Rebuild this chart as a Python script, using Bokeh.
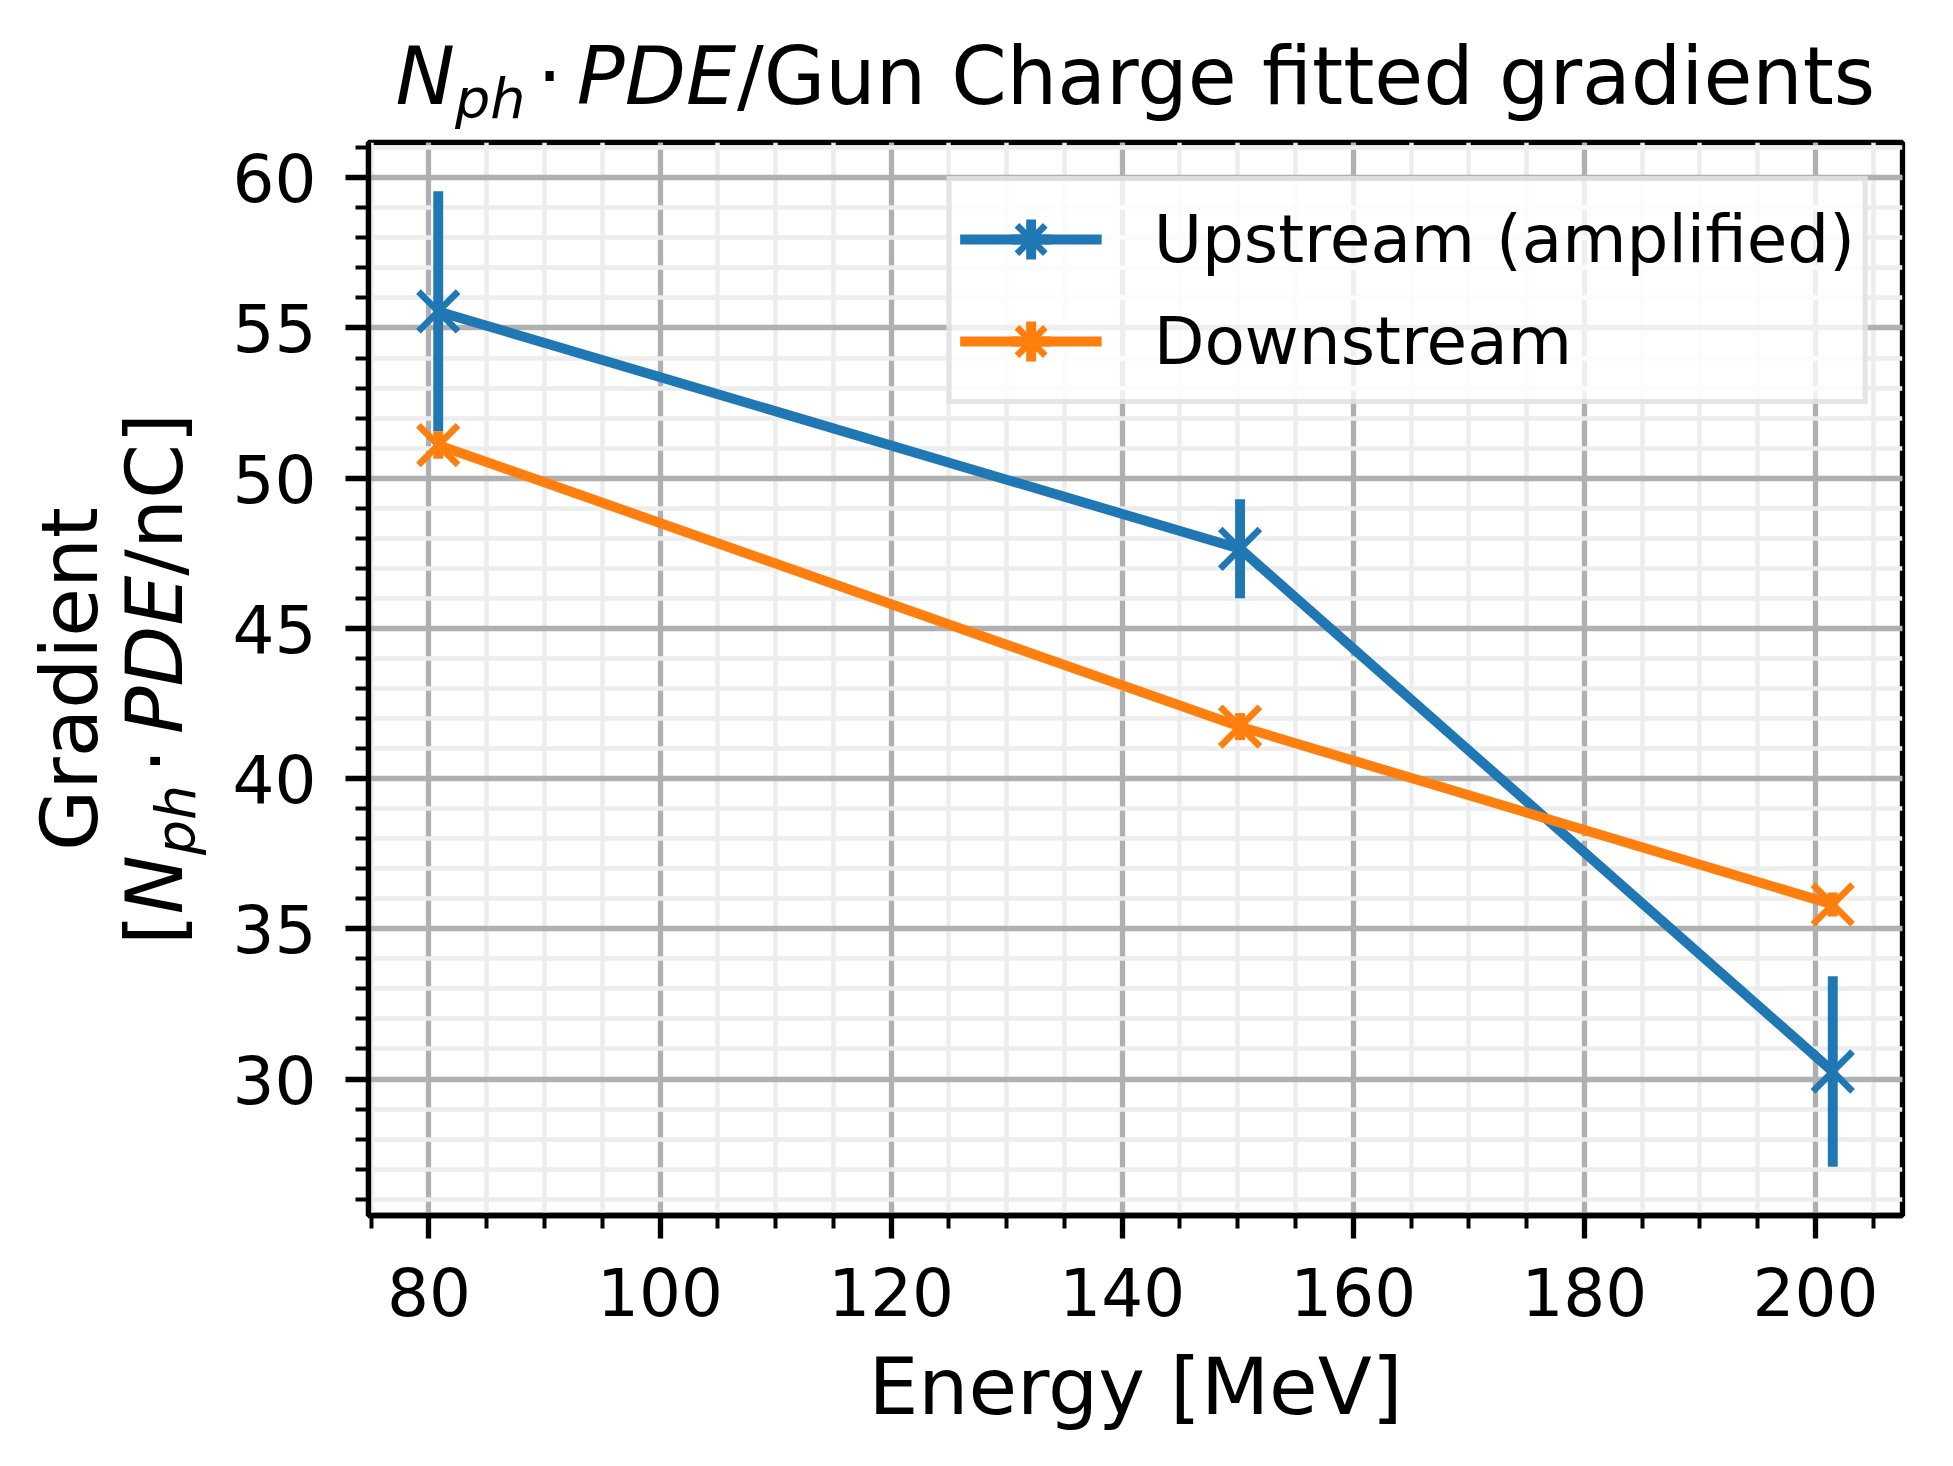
import math
from bokeh.plotting import figure
from bokeh.layouts import column, row
from bokeh.models import (Range1d, SingleIntervalTicker, ColumnDataSource,
                          Legend, LegendItem)
from bokeh.core.properties import value
from bokeh.embed import file_html
from bokeh.resources import INLINE

# ---- data ----
energy = [80.8, 150.2, 201.5]
upstream = [55.55, 47.65, 30.25]
upstream_err = [4.0, 1.65, 3.17]
downstream = [51.1, 41.73, 35.81]
downstream_err = [0.45, 0.45, 0.40]
series_labels = ["Upstream (amplified)", "Downstream"]
x_label = "Energy [MeV]"
# title "N_ph · PDE/Gun Charge fitted gradients" split into styled pieces
title_pieces = ["N", "ph", "\u00b7", "PDE", "/Gun Charge fitted gradients"]
ylabel_line1 = "Gradient"
ylabel_pieces = ["[", "N", "ph", "\u00b7", "PDE", "/nC]"]

FONT = "DejaVu Sans"
C_UP = "#1f77b4"
C_DOWN = "#ff7f0e"

# autoscale with 5% margins like matplotlib
lo_all = [u - e for u, e in zip(upstream, upstream_err)] + [d - e for d, e in zip(downstream, downstream_err)]
hi_all = [u + e for u, e in zip(upstream, upstream_err)] + [d + e for d, e in zip(downstream, downstream_err)]
ymin, ymax = min(lo_all), max(hi_all)
xmin, xmax = min(energy), max(energy)
xm = 0.05 * (xmax - xmin)
ym = 0.05 * (ymax - ymin)

# ---- page geometry (pixels) ----
PAGE_W = 1937
TITLE_H = 138
LEFT_W = 220
FRAME_L, FRAME_T = 368, 142          # frame position on the page
FRAME_W, FRAME_H = 1534, 1073
MAIN_BL = FRAME_L - LEFT_W
MAIN_BT = FRAME_T - TITLE_H
MAIN_BR = PAGE_W - FRAME_L - FRAME_W
MAIN_BB = 236
MAIN_H = MAIN_BT + FRAME_H + MAIN_BB

p = figure(frame_width=FRAME_W, frame_height=FRAME_H, output_backend="svg", toolbar_location=None,
           x_range=Range1d(xmin - xm, xmax + xm), y_range=Range1d(ymin - ym, ymax + ym),
           min_border_left=MAIN_BL, min_border_right=MAIN_BR, min_border_top=MAIN_BT,
           min_border_bottom=MAIN_BB)
p.background_fill_color = "white"
p.border_fill_color = "white"
p.outline_line_color = "black"
p.outline_line_width = 5.3

xt = SingleIntervalTicker(interval=20, num_minor_ticks=4)
yt = SingleIntervalTicker(interval=5, num_minor_ticks=5)
p.xaxis.ticker = xt
p.yaxis.ticker = yt
p.xgrid.ticker = xt
p.ygrid.ticker = yt

for g in (p.xgrid[0], p.ygrid[0]):
    g.grid_line_color = "#b0b0b0"
    g.grid_line_width = 5.3
    g.minor_grid_line_color = "#ededed"
    g.minor_grid_line_width = 4.5

for ax in (p.xaxis[0], p.yaxis[0]):
    ax.axis_line_color = "black"
    ax.axis_line_width = 5.3
    ax.major_tick_line_color = "black"
    ax.major_tick_line_width = 5.3
    ax.major_tick_out = 23
    ax.major_tick_in = 0
    ax.minor_tick_line_color = "black"
    ax.minor_tick_line_width = 4
    ax.minor_tick_out = 13
    ax.minor_tick_in = 0
    ax.major_label_text_font = FONT
    ax.major_label_text_font_size = "66px"
    ax.major_label_text_color = "black"
    ax.axis_label_text_font = FONT
    ax.axis_label_text_font_size = "79px"
    ax.axis_label_text_font_style = "normal"
    ax.axis_label_text_color = "black"

p.xaxis.major_label_standoff = 28
p.yaxis.major_label_standoff = 29
p.xaxis.axis_label = x_label
p.xaxis.axis_label_standoff = 22


def add_series(y, err, color):
    src = ColumnDataSource(dict(x=energy, y=y,
                                lo=[a - b for a, b in zip(y, err)],
                                hi=[a + b for a, b in zip(y, err)]))
    p.segment(x0="x", y0="lo", x1="x", y1="hi", source=src, line_color=color, line_width=9.9)
    ln = p.line("x", "y", source=src, line_color=color, line_width=9.9)
    # zero-size cross: invisible in the plot, gives the vertical error-bar stroke in the legend
    bar = p.scatter("x", "y", source=src, marker="cross", size=0,
                    line_color=color, line_width=9.9)
    mk = p.scatter("x", "y", source=src, marker="x", size=56, line_color=color, line_width=6.6)
    return [ln, bar, mk]


r_up = add_series(upstream, upstream_err, C_UP)
r_down = add_series(downstream, downstream_err, C_DOWN)

legend = Legend(items=[LegendItem(label=series_labels[0], renderers=r_up),
                       LegendItem(label=series_labels[1], renderers=r_down)],
                location="top_right")
legend.label_text_font = FONT
legend.label_text_font_size = "66px"
legend.label_text_color = "black"
legend.glyph_width = 142
legend.glyph_height = 100
legend.label_height = 100
legend.spacing = 2
legend.padding = 8
legend.margin = 34
legend.label_standoff = 52
legend.background_fill_color = "white"
legend.background_fill_alpha = 0.8
legend.border_line_color = "#cccccc"
legend.border_line_width = 5
p.add_layout(legend)


def text_fig(width, height, y_extent):
    f = figure(width=width, height=height, output_backend="svg", toolbar_location=None,
               x_range=Range1d(0, width), y_range=Range1d(0, y_extent),
               x_axis_location=None, y_axis_location=None, min_border=0, title=None)
    f.grid.visible = False
    f.outline_line_color = None
    f.background_fill_color = "white"
    f.border_fill_color = "white"
    return f


MID = 0.346   # distance (em) from the text box centre to the alphabetic baseline


def put(f, top, extent, text, cx, cy, size, italic=False, angle=0.0):
    # (cx, cy): centre of the text box in page pixels (y downward from page top);
    # the figure's frame covers page y from `top` to `top + extent`
    f.text(x=[cx], y=[top + extent - cy], text=[text],
           text_font=value(FONT), text_font_size=f"{size:.1f}px",
           text_font_style="italic" if italic else "normal",
           text_align="center", text_baseline="middle", angle=angle,
           text_color="black")


# ---- title figure ----
tf = text_fig(PAGE_W, TITLE_H, TITLE_H)
FT = 79.5
FS = FT * 0.7
tx0 = FRAME_L + 27
ty = 104                                   # baseline (page y)
cen_t = [0.374, 1.192, 1.94, 3.2825, 11.454]   # piece centres (em from start)
for i, s in enumerate(title_pieces):
    cx = tx0 + cen_t[i] * FT
    if i == 1:
        put(tf, 0, TITLE_H, s, cx, ty + 13 - MID * FS, FS, italic=True)
    else:
        put(tf, 0, TITLE_H, s, cx, ty - MID * FT, FT, italic=(i in (0, 3)))

# ---- left figure: rotated y label (its frame is aligned with the main frame) ----
lf = text_fig(LEFT_W, MAIN_H, FRAME_H)
FY = 79
FYS = FY * 0.7
A = math.pi / 2
cy = FRAME_T + FRAME_H / 2
put(lf, FRAME_T, FRAME_H, ylabel_line1, 97 - MID * FY, cy, FY, angle=A)
xb = 182                                   # baseline (page x) of the second line
start = cy + 6.734 * FY / 2
cen_y = [0.195, 0.764, 1.582, 2.33, 3.6725, 5.7045]
for i, s in enumerate(ylabel_pieces):
    py = start - cen_y[i] * FY
    if i == 2:
        put(lf, FRAME_T, FRAME_H, s, xb + 13 - MID * FYS, py, FYS, italic=True, angle=A)
    else:
        put(lf, FRAME_T, FRAME_H, s, xb - MID * FY, py, FY, italic=(i in (1, 4)), angle=A)

layout = column(tf, row(lf, p, spacing=0), spacing=0)
open("out.html", "w").write(file_html(layout, INLINE))
